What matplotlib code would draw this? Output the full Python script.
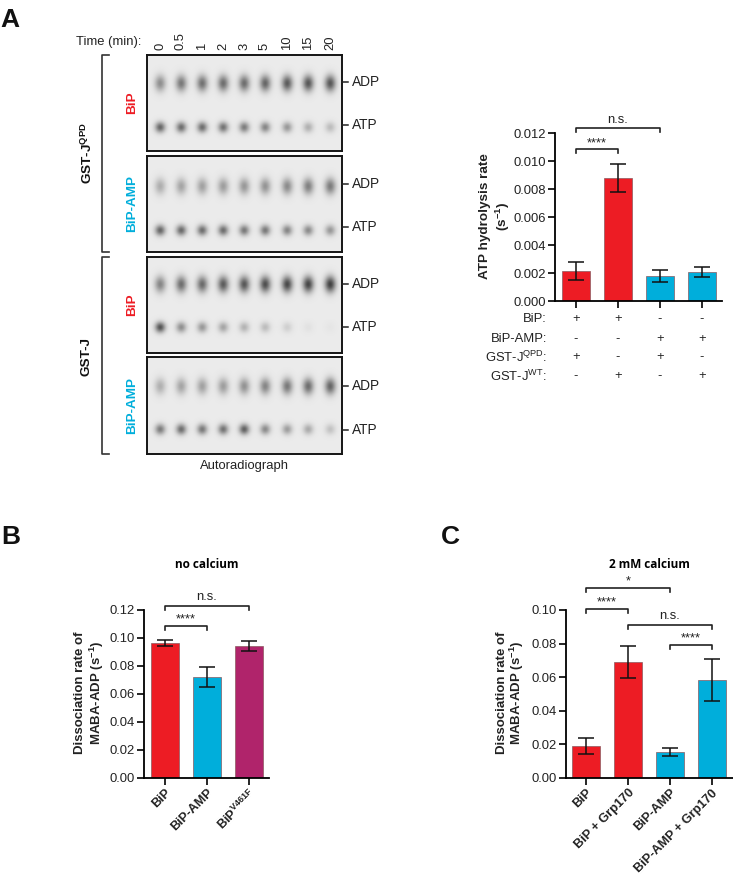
import numpy as np
import matplotlib
matplotlib.use("Agg")
import matplotlib.pyplot as plt

plt.rcParams['font.family'] = ['Liberation Sans', 'DejaVu Sans']
plt.rcParams['mathtext.fontset'] = 'custom'
plt.rcParams['mathtext.rm'] = 'Liberation Sans'
plt.rcParams['mathtext.bf'] = 'Liberation Sans:bold'
plt.rcParams['mathtext.default'] = 'regular'

W, H = 733, 880
RED = '#ED1C24'
BLUE = '#00AEDB'
PURPLE = '#B0246B'

time_labels = ['0', '0.5', '1', '2', '3', '5', '10', '15', '20']

# spot darkness per lane
gel1_adp = [0.50, 0.62, 0.66, 0.68, 0.68, 0.72, 0.78, 0.80, 0.80]
gel1_atp = [0.72, 0.68, 0.68, 0.65, 0.60, 0.55, 0.45, 0.32, 0.25]
gel2_adp = [0.33, 0.38, 0.40, 0.42, 0.45, 0.47, 0.52, 0.58, 0.60]
gel2_atp = [0.72, 0.70, 0.68, 0.68, 0.62, 0.62, 0.55, 0.52, 0.45]
gel3_adp = [0.55, 0.68, 0.70, 0.78, 0.80, 0.85, 0.88, 0.90, 0.92]
gel3_atp = [0.82, 0.50, 0.45, 0.38, 0.30, 0.25, 0.15, 0.05, 0.03]
gel4_adp = [0.32, 0.38, 0.40, 0.42, 0.48, 0.55, 0.62, 0.68, 0.72]
gel4_atp = [0.60, 0.68, 0.62, 0.65, 0.75, 0.52, 0.42, 0.35, 0.22]

rate_values = [0.00215, 0.0088, 0.0018, 0.0021]
rate_low = [0.0015, 0.0078, 0.00135, 0.0017]
rate_high = [0.0028, 0.0098, 0.0022, 0.00245]
rate_colors = [RED, RED, BLUE, BLUE]
row_names = ['BiP:', 'BiP-AMP:', 'GST-J$^{QPD}$:', 'GST-J$^{WT}$:']
row_signs = [['+', '+', '-', '-'], ['-', '-', '+', '+'], ['+', '-', '+', '-'], ['-', '+', '-', '+']]

b_labels = ['BiP', 'BiP-AMP', r'BiP$^{\mathbf{V461F}}$']
b_values = [0.0965, 0.072, 0.094]
b_low = [0.0945, 0.065, 0.091]
b_high = [0.0985, 0.0795, 0.0975]
b_colors = [RED, BLUE, PURPLE]

c_labels = ['BiP', 'BiP + Grp170', 'BiP-AMP', 'BiP-AMP + Grp170']
c_values = [0.0193, 0.069, 0.0155, 0.0585]
c_low = [0.0145, 0.0593, 0.013, 0.046]
c_high = [0.024, 0.0788, 0.018, 0.071]
c_colors = [RED, RED, BLUE, BLUE]


def px_axes(fig, left, top, right, bottom):
    return fig.add_axes([left / W, 1 - bottom / H, (right - left) / W, (bottom - top) / H])


def draw_gel(fig, top, bottom, adp, atp, adp_y, atp_y):
    left, right = 147, 342
    lanes = [160, 181, 202, 223, 244, 265, 287, 308, 330]
    ax = px_axes(fig, left, top, right, bottom)
    xx, yy = np.meshgrid(np.arange(left, right, 0.5), np.arange(top, bottom, 0.5))
    dark = np.zeros_like(xx)
    for lane, a, b in zip(lanes, adp, atp):
        dark += a * np.exp(-((xx - lane) / 5.4) ** 2 - ((yy - adp_y) / 8.0) ** 2)
        dark += b * np.exp(-((xx - lane) / 5.0) ** 2 - ((yy - atp_y) / 5.2) ** 2)
    ax.imshow(0.92 - 0.72 * np.clip(dark, 0, 1), cmap='gray', vmin=0, vmax=1, aspect='auto',
              extent=(left, right, bottom, top), interpolation='bilinear')
    ax.set_xticks([])
    ax.set_yticks([])
    for s in ax.spines.values():
        s.set_linewidth(1.4)
        s.set_color('#151515')


def draw_bars(fig, box, xlim, ylim, yticks, fmt, values, low, high, colors, labels):
    ax = px_axes(fig, *box)
    x = np.arange(len(values))
    err = [np.array(values) - np.array(low), np.array(high) - np.array(values)]
    ax.bar(x, values, width=0.667, color=colors, edgecolor='#8a5a60', linewidth=0.5, zorder=2)
    ax.errorbar(x, values, yerr=err, fmt='none', ecolor='#111111', elinewidth=1.1,
                capsize=5.5, capthick=1.1, zorder=3)
    ax.set_xlim(*xlim)
    ax.set_ylim(*ylim)
    ax.set_yticks(yticks)
    ax.set_yticklabels([fmt % t for t in yticks], fontsize=9.4, color='#222222')
    ax.set_xticks(x)
    if labels:
        ax.set_xticklabels(labels, rotation=45, ha='right', rotation_mode='anchor',
                           fontsize=9.2, fontweight='bold', color='#222222')
    else:
        ax.set_xticklabels([])
    ax.tick_params(length=5, width=1.2, pad=1.5)
    for side in ['top', 'right']:
        ax.spines[side].set_visible(False)
    for side in ['left', 'bottom']:
        ax.spines[side].set_linewidth(1.3)
    ax.patch.set_alpha(0)
    return ax


def bracket(ax, x1, x2, y, label, text_y, size=9.4):
    ax.plot([x1, x1, x2, x2], [y + 4.5, y, y, y + 4.5], color='#222222', lw=1.2)
    ax.text((x1 + x2) / 2, text_y, label, ha='center', va='center', fontsize=size, color='#222222')


fig = plt.figure(figsize=(W / 100, H / 100), dpi=100)

draw_gel(fig, 55, 151, gel1_adp, gel1_atp, 83, 127)
draw_gel(fig, 156, 252, gel2_adp, gel2_atp, 186, 230)
draw_gel(fig, 257, 353, gel3_adp, gel3_atp, 284, 327)
draw_gel(fig, 357, 454, gel4_adp, gel4_atp, 386, 429)

draw_bars(fig, (555, 133, 722, 301), (-0.5, 3.476), (0, 0.012),
          [0, 0.002, 0.004, 0.006, 0.008, 0.010, 0.012], '%.3f',
          rate_values, rate_low, rate_high, rate_colors, None)
draw_bars(fig, (144, 610, 269, 778), (-0.5, 2.476), (0, 0.12),
          [0, 0.02, 0.04, 0.06, 0.08, 0.10, 0.12], '%.2f',
          b_values, b_low, b_high, b_colors, b_labels)
draw_bars(fig, (566, 610, 733, 778), (-0.476, 3.5), (0, 0.10),
          [0, 0.02, 0.04, 0.06, 0.08, 0.10], '%.2f',
          c_values, c_low, c_high, c_colors, c_labels)

# overlay in pixel coordinates for labels and brackets
ov = fig.add_axes([0, 0, 1, 1], zorder=10)
ov.set_xlim(0, W)
ov.set_ylim(H, 0)
ov.axis('off')

for name, x, y in [('A', 0, 20), ('B', 1, 537), ('C', 441, 537)]:
    ov.text(x, y, name, fontsize=19, fontweight='bold', va='center', ha='left', color='#111111')

ov.text(76, 42, 'Time (min):', fontsize=9.4, va='center', ha='left', color='#222222')
for lane, t in zip([160, 181, 202, 223, 244, 265, 287, 308, 330], time_labels):
    ov.text(lane, 50, t, rotation=90, fontsize=9.4, ha='center', va='bottom', color='#222222')

for top, bottom, name, y in [(55, 252, r'GST-J$^{\mathbf{QPD}}$', 153), (257, 454, 'GST-J', 356)]:
    ov.plot([109, 102, 102, 109], [top, top, bottom, bottom], color='#333333', lw=1.2)
    ov.text(87, y, name, rotation=90, fontsize=9.7, fontweight='bold', ha='center', va='center', color='#111111')

for y, name, col in [(103, 'BiP', RED), (204, 'BiP-AMP', BLUE), (305, 'BiP', RED), (406, 'BiP-AMP', BLUE)]:
    ov.text(132, y, name, rotation=90, fontsize=9.7, fontweight='bold', ha='center', va='center', color=col)

for y, name in [(82, 'ADP'), (125, 'ATP'), (184, 'ADP'), (227, 'ATP'),
                (284, 'ADP'), (327, 'ATP'), (386, 'ADP'), (430, 'ATP')]:
    ov.plot([342, 348], [y, y], color='#222222', lw=1.1)
    ov.text(352, y, name, fontsize=9.9, va='center', ha='left', color='#222222')

ov.text(244, 466, 'Autoradiograph', fontsize=9.4, ha='center', va='center', color='#222222')

# sign table under the ATP hydrolysis bars
for y, name, signs in zip([319, 339, 357, 376], row_names, row_signs):
    ov.text(547, y, name, fontsize=9.4, ha='right', va='center', color='#222222')
    for x, s in zip([576, 618, 660, 702], signs):
        ov.text(x, y, s, fontsize=9.4, ha='center', va='center', color='#222222')

ov.text(485, 216, 'ATP hydrolysis rate', rotation=90, fontsize=9.7, fontweight='bold', ha='center', va='center', color='#222222')
ov.text(503, 216, '(s$^{\\mathbf{-1}}$)', rotation=90, fontsize=9.7, fontweight='bold', ha='center', va='center', color='#222222')
bracket(ov, 576, 660, 128, 'n.s.', 120)
bracket(ov, 576, 618, 149, '****', 143)

ov.text(207, 564, 'no calcium', fontsize=8.5, fontweight='bold', ha='center', va='center', family='Open Sans')
ov.text(80, 693, 'Dissociation rate of', rotation=90, fontsize=9.5, fontweight='bold', ha='center', va='center', color='#222222')
ov.text(97, 693, 'MABA-ADP (s$^{\\mathbf{-1}}$)', rotation=90, fontsize=9.5, fontweight='bold', ha='center', va='center', color='#222222')
bracket(ov, 165, 249, 606, 'n.s.', 597)
bracket(ov, 165, 207, 626, '****', 619)

ov.text(649, 564, '2 mM calcium', fontsize=8.5, fontweight='bold', ha='center', va='center', family='Open Sans')
ov.text(502, 693, 'Dissociation rate of', rotation=90, fontsize=9.5, fontweight='bold', ha='center', va='center', color='#222222')
ov.text(517, 693, 'MABA-ADP (s$^{\\mathbf{-1}}$)', rotation=90, fontsize=9.5, fontweight='bold', ha='center', va='center', color='#222222')
bracket(ov, 586, 670, 588, '*', 581)
bracket(ov, 586, 628, 609, '****', 602)
bracket(ov, 628, 712, 625, 'n.s.', 616)
bracket(ov, 670, 712, 645, '****', 638)

fig.savefig('out.png', dpi=100)
